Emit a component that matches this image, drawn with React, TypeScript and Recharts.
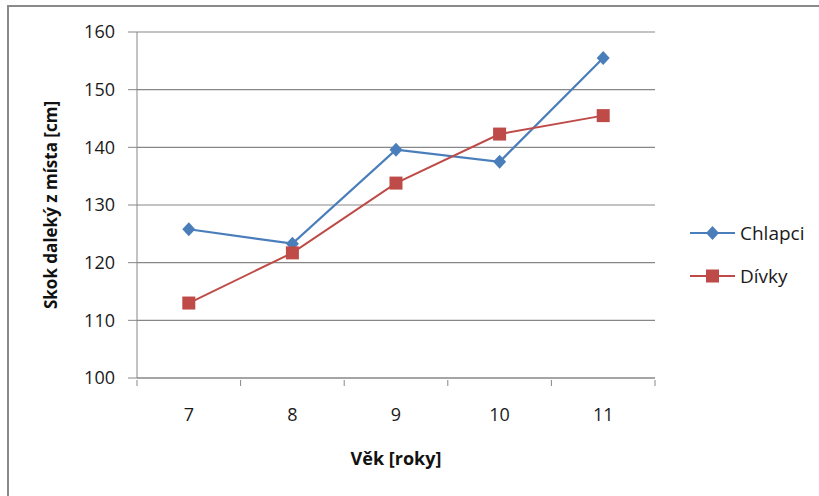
import { LineChart, Line, XAxis, YAxis, CartesianGrid } from 'recharts';

const ages = ['7', '8', '9', '10', '11'];
const chlapci = [125.8, 123.3, 139.6, 137.5, 155.5];
const divky = [113.0, 121.7, 133.8, 142.3, 145.5];
const yTicks = [100, 110, 120, 130, 140, 150, 160];

const data = ages.map((age, i) => ({ age, chlapci: chlapci[i], divky: divky[i] }));

const BLUE = '#4a7ebb';
const RED = '#be4b48';
const GRID = '#878787';
const FONT = '"Open Sans", sans-serif';
const HALF_STEP = 51.8;

const Diamond = (props: any) => {
  const { cx, cy } = props;
  if (cx == null || cy == null) return null;
  return <path d={`M${cx},${cy - 7} L${cx + 6.5},${cy} L${cx},${cy + 7} L${cx - 6.5},${cy} Z`} fill={BLUE} />;
};

const Square = (props: any) => {
  const { cx, cy } = props;
  if (cx == null || cy == null) return null;
  return <rect x={cx - 6.5} y={cy - 6.5} width={13} height={13} fill={RED} />;
};

const XTick = (props: any) => {
  const { x, y, payload, index } = props;
  const last = index === ages.length - 1;
  return (
    <g>
      <line x1={x - HALF_STEP} y1={y} x2={x - HALF_STEP} y2={y + 6} stroke={GRID} />
      {last && <line x1={x + HALF_STEP} y1={y} x2={x + HALF_STEP} y2={y + 6} stroke={GRID} />}
      <text x={x} y={y + 36} textAnchor="middle" dominantBaseline="middle" fontSize={18} fill="#1a1a1a" fontFamily={FONT}>
        {payload.value}
      </text>
    </g>
  );
};

const YLabel = (props: any) => {
  const { viewBox } = props;
  const cx = viewBox.x + 52;
  const cy = viewBox.y + viewBox.height / 2;
  return (
    <text x={cx} y={cy} transform={`rotate(-90, ${cx}, ${cy})`} textAnchor="middle" dominantBaseline="middle"
      fontSize={17} fontWeight={700} fill="#111" fontFamily={FONT}>
      Skok daleký z místa [cm]
    </text>
  );
};

const XLabel = (props: any) => {
  const { viewBox } = props;
  const cx = viewBox.x + viewBox.width / 2;
  return (
    <text x={cx} y={viewBox.y + 82} textAnchor="middle" dominantBaseline="middle"
      fontSize={18} fontWeight={700} fill="#111" fontFamily={FONT}>
      Věk [roky]
    </text>
  );
};

const legendItems = [
  { name: 'Chlapci', color: BLUE, square: false },
  { name: 'Dívky', color: RED, square: true },
];

const LegendBox = () => (
  <div style={{ position: 'absolute', left: 690, top: 211, fontFamily: FONT, fontSize: 19, color: '#1a1a1a' }}>
    {legendItems.map((item) => (
      <div key={item.name} style={{ display: 'flex', alignItems: 'center', height: 43 }}>
        <svg width={50} height={16}>
          <line x1={0} y1={8} x2={45} y2={8} stroke={item.color} strokeWidth={2} />
          {item.square ? (
            <rect x={16} y={1.5} width={13} height={13} fill={item.color} />
          ) : (
            <path d="M22.5,1 L29,8 L22.5,15 L16,8 Z" fill={item.color} />
          )}
        </svg>
        <span>{item.name}</span>
      </div>
    ))}
  </div>
);

export default function App() {
  return (
    <div style={{ position: 'absolute', left: 0, top: 0, width: 819, height: 496, overflow: 'hidden', background: '#fff' }}>
      <div style={{ position: 'absolute', left: 7, top: 5, width: 830, height: 520, borderLeft: '2px solid #8a8a8a', borderTop: '2px solid #8a8a8a' }} />
      <div style={{ position: 'absolute', left: 0, top: 0 }}>
        <LineChart width={819} height={496} data={data} margin={{ top: 32, right: 164, bottom: 0, left: 0 }}>
          <CartesianGrid vertical={false} stroke={GRID} strokeWidth={1.2} />
          <XAxis dataKey="age" scale="band" height={118} axisLine={{ stroke: GRID, strokeWidth: 1.2 }} tickLine={false}
            tickSize={0} tick={<XTick />} interval={0} label={<XLabel />} />
          <YAxis domain={[100, 160]} ticks={yTicks} width={137} axisLine={{ stroke: GRID }} tickLine={{ stroke: GRID }}
            tickSize={9} tickMargin={13} tick={{ fontSize: 18, fill: '#1a1a1a', fontFamily: FONT }} label={<YLabel />} />
          <Line dataKey="chlapci" stroke={BLUE} strokeWidth={2.2} dot={<Diamond />} isAnimationActive={false} />
          <Line dataKey="divky" stroke={RED} strokeWidth={2} dot={<Square />} isAnimationActive={false} />
        </LineChart>
      </div>
      <LegendBox />
    </div>
  );
}
